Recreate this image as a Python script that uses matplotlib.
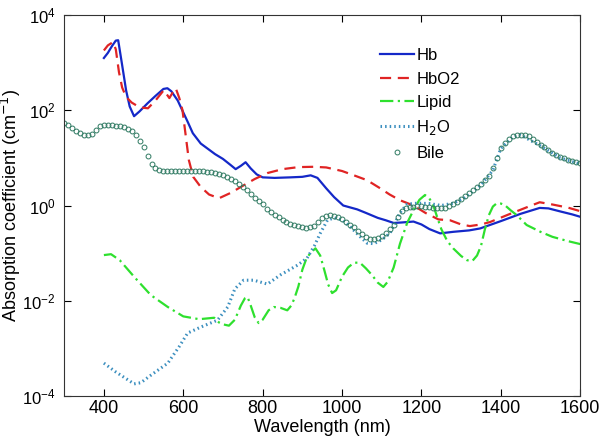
import numpy as np
import matplotlib
matplotlib.use('Agg')
import matplotlib.pyplot as plt

#%% data (wavelength in nm, absorption in 1/cm)
hb_wl = [400, 410, 420, 430, 436, 445, 456, 465, 476, 490, 510, 530, 550, 560, 570,
         586, 600, 612, 624, 644, 680, 700, 720, 732, 745, 757, 770, 785, 800, 830,
         870, 900, 921, 938, 960, 980, 1003, 1038, 1060, 1090, 1110, 1130, 1150,
         1180, 1200, 1220, 1247, 1280, 1320, 1348, 1400, 1450, 1498, 1520, 1550,
         1580, 1600]
hb_mua = [1250, 1600, 2200, 2900, 2950, 1000, 260, 120, 75, 95, 140, 200, 280, 290, 250,
          160, 90, 55, 33, 20, 12, 9.5, 7, 5.8, 6.8, 8.1, 6, 4.5, 3.9, 3.8,
          3.9, 4.0, 4.3, 3.8, 2.3, 1.5, 1.0, 0.83, 0.70, 0.55, 0.49, 0.43, 0.44,
          0.46, 0.40, 0.32, 0.26, 0.28, 0.30, 0.33, 0.47, 0.67, 0.89, 0.87, 0.75,
          0.65, 0.58]

hbo2_wl = [400, 410, 423, 430, 438, 446, 456, 470, 490, 511, 530, 551, 565, 575, 581,
           590, 598, 606, 614, 625, 644, 665, 690, 720, 745, 780, 812, 850, 890, 928,
           960, 1000, 1030, 1063, 1096, 1120, 1146, 1180, 1210, 1243, 1272, 1300,
           1322, 1350, 1373, 1420, 1470, 1498, 1530, 1570, 1600]
hbo2_mua = [1800, 2300, 2700, 1900, 630, 300, 190, 145, 115, 110, 160, 265, 180, 250, 290,
            180, 100, 30, 9, 4, 2.45, 1.7, 1.42, 1.85, 2.45, 3.6, 4.8, 5.8, 6.4, 6.5,
            6.3, 5.3, 4.3, 3.4, 2.3, 1.7, 1.29, 1.0, 0.70, 0.51, 0.49, 0.40,
            0.37, 0.40, 0.45, 0.65, 0.95, 1.17, 1.05, 0.90, 0.76]

lipid_wl = [400, 418, 440, 476, 518, 561, 600, 640, 678, 690, 700, 715, 730, 745, 755,
            762, 770, 780, 790, 800, 815, 828, 845, 862, 872, 880, 890, 900, 910, 920,
            933, 945, 955, 965, 975, 985, 1000, 1015, 1030, 1045, 1060, 1075, 1090,
            1104, 1115, 1130, 1146, 1164, 1180, 1195, 1209, 1220, 1230, 1240, 1250,
            1265, 1280, 1300, 1315, 1328, 1340, 1350, 1360, 1370, 1380, 1390, 1400,
            1410, 1425, 1440, 1465, 1500, 1530, 1570, 1600]
lipid_mua = [0.091, 0.095, 0.071, 0.032, 0.0132, 0.0074, 0.0047, 0.0041, 0.0044, 0.0035,
             0.0032, 0.0030, 0.0040, 0.0079, 0.0112, 0.012, 0.0079, 0.0045, 0.0034, 0.0040,
             0.0063, 0.0074, 0.0071, 0.0063, 0.0079, 0.0112, 0.020, 0.045, 0.076, 0.1,
             0.126, 0.089, 0.045, 0.022, 0.0145, 0.0166, 0.032, 0.050, 0.063, 0.063,
             0.048, 0.035, 0.024, 0.0195, 0.025, 0.05, 0.158, 0.43, 0.8, 1.32, 1.66,
             1.41, 1.0, 0.56, 0.32, 0.18, 0.126, 0.087, 0.071, 0.068, 0.089, 0.141,
             0.32, 0.63, 0.95, 1.12, 1.10, 1.02, 0.79, 0.63, 0.39, 0.28, 0.22, 0.178,
             0.155]

h2o_wl = [400, 430, 476, 493, 520, 561, 590, 611, 644, 686, 712, 730, 752, 778, 812,
          845, 888, 912, 930, 945, 963, 980, 1000, 1021, 1045, 1063, 1080, 1100, 1121,
          1146, 1164, 1190, 1220, 1250, 1280, 1310, 1350, 1380, 1400, 1430, 1450,
          1500, 1550, 1600]
h2o_mua = [4.9e-4, 3.2e-4, 1.8e-4, 1.9e-4, 2.8e-4, 4.9e-4, 1.1e-3, 2.1e-3, 2.8e-3, 3.9e-3,
           7.4e-3, 0.0178, 0.027, 0.027, 0.0224, 0.035, 0.056, 0.079, 0.141, 0.26, 0.49,
           0.55, 0.5, 0.355, 0.224, 0.162, 0.158, 0.19, 0.263, 0.71, 1.07, 1.12, 1.1,
           1.0, 1.12, 1.48, 2.7, 5.5, 15.8, 27.5, 30.2, 17.8, 10.0, 7.4]

bile_wl = list(range(300, 1601, 10))
bile_mua = [53.7, 47.9, 41.7, 37.2, 33.1, 30.9, 30.2, 31.6, 38.0, 45.7,
            50.1, 50.1, 49.0, 46.8, 45.7, 43.7, 40.7, 36.3, 30.2, 22.9,
            16.6, 11.0, 7.59, 6.17, 5.62, 5.37, 5.25, 5.25, 5.25, 5.25,
            5.37, 5.37, 5.37, 5.37, 5.25, 5.25, 5.13, 5.01, 4.90, 4.68,
            4.37, 3.98, 3.55, 3.24, 2.82, 2.40, 2.09, 1.74, 1.45, 1.23,
            1.05, 0.851, 0.724, 0.631, 0.575, 0.501, 0.457, 0.417, 0.389, 0.363,
            0.347, 0.339, 0.347, 0.380, 0.457, 0.537, 0.589, 0.617, 0.603, 0.575,
            0.513, 0.457, 0.398, 0.347, 0.295, 0.251, 0.219, 0.200, 0.200, 0.209,
            0.229, 0.263, 0.316, 0.398, 0.562, 0.759, 0.871, 0.912, 0.933, 0.955,
            0.955, 0.933, 0.912, 0.891, 0.871, 0.871, 0.891, 0.955, 1.05, 1.20,
            1.38, 1.58, 1.86, 2.14, 2.45, 2.82, 3.39, 4.17, 6.03, 10.0,
            15.8, 20.9, 25.1, 28.2, 30.2, 30.9, 30.2, 28.2, 25.1, 21.9,
            18.6, 16.6, 14.5, 12.9, 11.5, 10.5, 9.77, 9.12, 8.51, 8.13,
            7.76]

#%% figure
plt.rcParams['font.family'] = ['Liberation Sans', 'DejaVu Sans']

fig = plt.figure(figsize=(6, 4.41), dpi=100)
ax = fig.add_axes([0.107, 0.102, 0.86, 0.864])

ax.plot(hb_wl, hb_mua, color='#1428c8', lw=1.6, ls='-', label='Hb')
ax.plot(hbo2_wl, hbo2_mua, color='#e02424', lw=1.6, ls=(0, (5, 3)), label='HbO2')
ax.plot(lipid_wl, lipid_mua, color='#2ee02e', lw=1.6, ls=(0, (6, 2, 1, 2)), label='Lipid')
ax.plot(h2o_wl, h2o_mua, color='#3c8fbf', lw=2.2, ls=(0, (0.5, 1)), label='H$_2$O')
ax.plot(bile_wl, bile_mua, ls='none', marker='o', ms=3.5, mfc='none', mec='#2f7a62',
        mew=0.7, label='Bile')

ax.set_yscale('log')
ax.set_xlim(300, 1600)
ax.set_ylim(1e-4, 1e4)
ax.set_xticks([400, 600, 800, 1000, 1200, 1400, 1600])
ax.set_yticks([1e-4, 1e-2, 1e0, 1e2, 1e4])
ax.yaxis.set_minor_locator(matplotlib.ticker.NullLocator())
ax.tick_params(direction='in', top=True, right=True, labelsize=13, length=5, pad=3)
ax.tick_params(axis='y', labelsize=12, pad=6)
for s in ax.spines.values():
    s.set_linewidth(0.8)
    s.set_color('#333333')

ax.set_xlabel('Wavelength (nm)', fontsize=13, labelpad=1)
ax.set_ylabel('Absorption coefficient (cm$^{-1}$)', fontsize=13)
ax.yaxis.set_label_coords(-0.08, 0.5)

ax.legend(loc='upper left', bbox_to_anchor=(0.6, 0.93), frameon=False, fontsize=12,
          handlelength=2.0, handletextpad=0.15, labelspacing=0.5, borderaxespad=0)

fig.savefig('out.png', dpi=100)
